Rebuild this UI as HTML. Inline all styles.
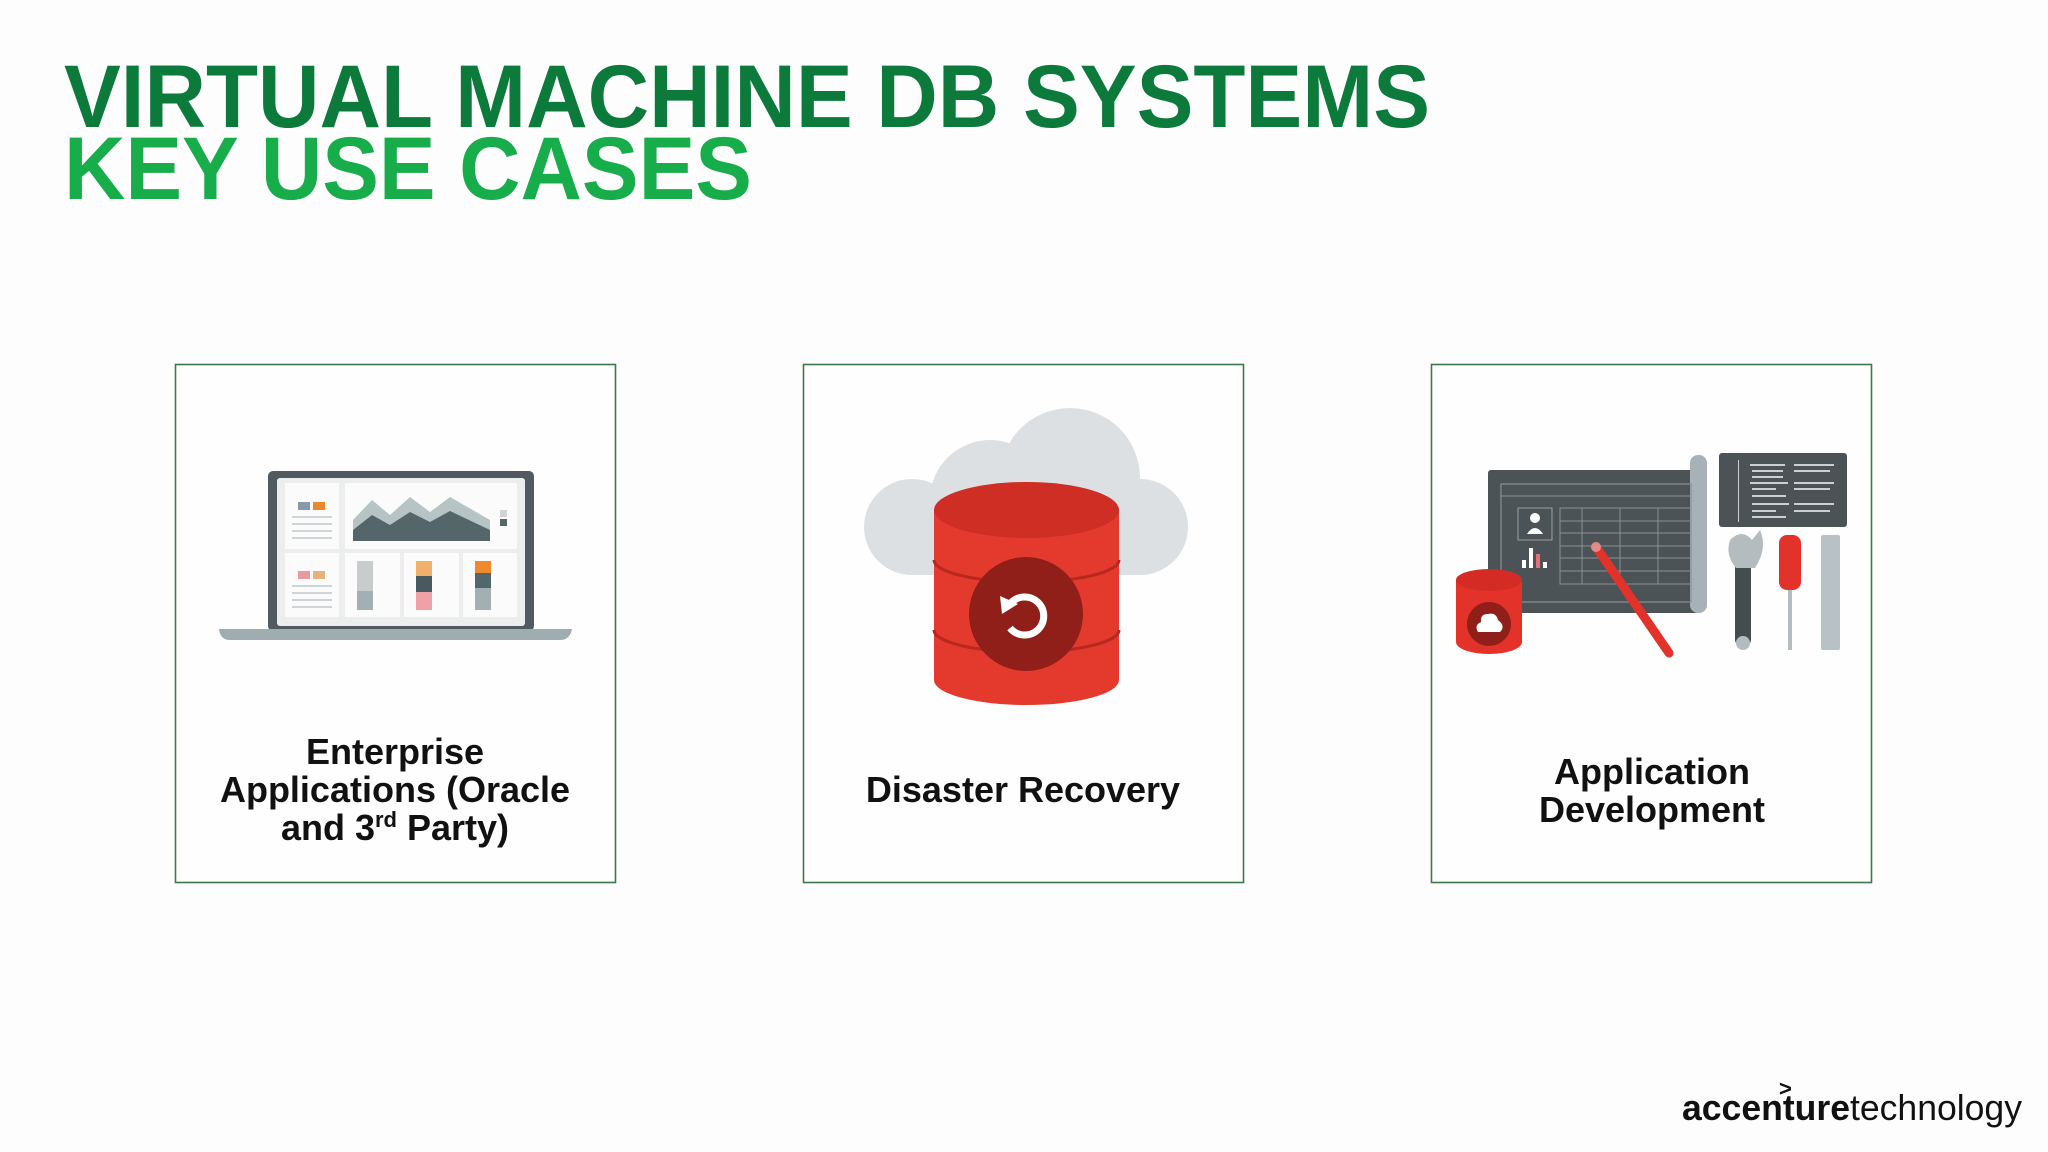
<!DOCTYPE html>
<html><head><meta charset="utf-8"><style>
html,body{margin:0;padding:0;background:#fdfdfd;}
svg{display:block}
</style></head><body>
<svg width="2048" height="1152" viewBox="0 0 2048 1152" xmlns="http://www.w3.org/2000/svg" font-family="Liberation Sans, Arial, sans-serif">
<rect width="2048" height="1152" fill="#fdfdfd"/>
<text x="64" y="127" font-size="89" font-weight="bold" fill="#0b7a3b" textLength="1366" lengthAdjust="spacingAndGlyphs">VIRTUAL MACHINE DB SYSTEMS</text>
<text x="64" y="199" font-size="89" font-weight="bold" fill="#17ad4a" textLength="688" lengthAdjust="spacingAndGlyphs">KEY USE CASES</text>

<g fill="#fefefe" stroke="#3b7a48" stroke-width="1.6">
<rect x="175.5" y="364.5" width="440" height="518"/>
<rect x="803.5" y="364.5" width="440" height="518"/>
<rect x="1431.5" y="364.5" width="440" height="518"/>
</g>

<!-- laptop -->
<rect x="268" y="471" width="266" height="160" rx="5" fill="#505a60"/>
<rect x="277" y="478" width="248" height="148" rx="3" fill="#eceeee"/>
<g fill="#fbfbfb">
<rect x="285" y="483" width="54" height="66"/><rect x="285" y="553" width="54" height="64"/>
<rect x="345" y="483" width="172" height="66"/>
<rect x="345" y="553" width="55" height="64"/><rect x="404" y="553" width="55" height="64"/><rect x="463" y="553" width="54" height="64"/>
</g>
<polygon points="353,541 353,520 372,500 390,515 410,497 430,512 450,497 490,520 490,541" fill="#b7c4c6"/>
<polygon points="353,541 353,530 372,515 390,525 410,512 430,522 450,511 490,530 490,541" fill="#55666a"/>
<rect x="298" y="502" width="12" height="8" fill="#8898a8"/><rect x="313" y="502" width="12" height="8" fill="#e8892e"/>
<rect x="298" y="571" width="12" height="8" fill="#e79aa0"/><rect x="313" y="571" width="12" height="8" fill="#e9b27a"/>
<g fill="#cfd4d6"><rect x="292" y="516" width="40" height="2"/><rect x="292" y="523" width="40" height="2"/><rect x="292" y="530" width="40" height="2"/><rect x="292" y="537" width="40" height="2"/>
<rect x="292" y="585" width="40" height="2"/><rect x="292" y="592" width="40" height="2"/><rect x="292" y="599" width="40" height="2"/><rect x="292" y="606" width="40" height="2"/></g>
<rect x="357" y="561" width="16" height="30" fill="#c9cccd"/><rect x="357" y="591" width="16" height="19" fill="#a3b0b3"/>
<rect x="416" y="561" width="16" height="15" fill="#f0b06a"/><rect x="416" y="576" width="16" height="16" fill="#485a60"/><rect x="416" y="592" width="16" height="18" fill="#f0a1a8"/>
<rect x="475" y="561" width="16" height="12" fill="#ee8a2a"/><rect x="475" y="573" width="16" height="15" fill="#52666d"/><rect x="475" y="588" width="16" height="22" fill="#a3b0b3"/>
<rect x="500" y="510" width="7" height="7" fill="#d0d4d4"/><rect x="500" y="519" width="7" height="7" fill="#55666a"/>
<path d="M219 629 H572 Q570 640 560 640 H230 Q220 640 219 629Z" fill="#9fadb1"/>

<!-- cloud + db -->
<g fill="#dde0e2">
<circle cx="1070" cy="478" r="70"/><circle cx="990" cy="500" r="60"/><circle cx="912" cy="527" r="48"/><circle cx="1140" cy="527" r="48"/>
<rect x="912" y="520" width="228" height="55"/>
</g>
<path d="M934 510 V680 A92.5 25 0 0 0 1119 680 V510Z" fill="#e43a2e"/>
<ellipse cx="1026.5" cy="510" rx="92.5" ry="28" fill="#cf2e25"/>
<path d="M934 560 A92.5 22 0 0 0 1119 560" fill="none" stroke="#b8281f" stroke-width="3"/>
<path d="M934 630 A92.5 22 0 0 0 1119 630" fill="none" stroke="#b8281f" stroke-width="3"/>
<circle cx="1026" cy="614" r="57" fill="#8f1f18"/>
<path d="M1010 604 A19 19 0 1 1 1010 628" fill="none" stroke="#fff" stroke-width="7"/>
<polygon points="1000,596 1018,604 1002,614" fill="#fff"/>

<!-- app dev -->
<rect x="1488" y="470" width="210" height="143" rx="3" fill="#4c5357"/>
<rect x="1690" y="455" width="17" height="158" rx="8" fill="#a7b2b8"/>
<rect x="1501" y="484" width="190" height="118" fill="none" stroke="#8a9296" stroke-width="1.2"/>
<line x1="1501" y1="496" x2="1691" y2="496" stroke="#8a9296"/>
<rect x="1518" y="508" width="34" height="32" fill="none" stroke="#9aa2a6"/>
<circle cx="1535" cy="518" r="5" fill="#fff"/><path d="M1527 534 Q1535 522 1543 534Z" fill="#fff"/>
<rect x="1522" y="560" width="4" height="8" fill="#fff"/><rect x="1529" y="548" width="4" height="20" fill="#fff"/><rect x="1536" y="554" width="4" height="14" fill="#e3707a"/><rect x="1543" y="562" width="4" height="6" fill="#fff"/>
<g stroke="#8a9296" stroke-width="1"><rect x="1560" y="508" width="131" height="76" fill="none"/>
<line x1="1560" y1="521" x2="1691" y2="521"/><line x1="1560" y1="533" x2="1691" y2="533"/><line x1="1560" y1="546" x2="1691" y2="546"/><line x1="1560" y1="558" x2="1691" y2="558"/><line x1="1560" y1="571" x2="1691" y2="571"/>
<line x1="1582" y1="508" x2="1582" y2="584"/><line x1="1620" y1="508" x2="1620" y2="584"/><line x1="1658" y1="508" x2="1658" y2="584"/></g>
<rect x="1719" y="453" width="128" height="74" rx="3" fill="#4c5357"/>
<g fill="#c9cfd2"><rect x="1750" y="464" width="35" height="2"/><rect x="1752" y="470" width="31" height="2"/><rect x="1752" y="476" width="31" height="2"/><rect x="1750" y="482" width="38" height="2"/><rect x="1752" y="488" width="24" height="2"/><rect x="1752" y="495" width="34" height="2"/><rect x="1752" y="503" width="37" height="2"/><rect x="1752" y="510" width="24" height="2"/><rect x="1752" y="516" width="34" height="2"/>
<rect x="1794" y="464" width="40" height="2"/><rect x="1794" y="470" width="36" height="2"/><rect x="1794" y="482" width="40" height="2"/><rect x="1794" y="488" width="36" height="2"/><rect x="1794" y="503" width="40" height="2"/><rect x="1794" y="510" width="36" height="2"/><rect x="1738" y="460" width="1" height="62"/></g>
<path d="M1596 547 L1669 653" stroke="#e23229" stroke-width="9" stroke-linecap="round"/>
<circle cx="1596" cy="547" r="5" fill="#e58a8a"/>
<rect x="1735" y="560" width="16" height="85" rx="5" fill="#454c50"/>
<path d="M1730 540 Q1742 528 1752 540 L1760 530 Q1768 548 1755 568 H1736 Q1725 555 1730 540Z" fill="#b5bcc0"/>
<circle cx="1743" cy="643" r="7" fill="#b5bcc0"/>
<rect x="1779" y="535" width="22" height="55" rx="8" fill="#e23229"/>
<rect x="1788" y="590" width="4" height="60" fill="#b5bcc0"/>
<rect x="1821" y="535" width="19" height="115" rx="2" fill="#b8c1c5"/>
<path d="M1456 580 V642 A33 12 0 0 0 1522 642 V580Z" fill="#e23229"/>
<ellipse cx="1489" cy="580" rx="33" ry="11" fill="#d42c24"/>
<circle cx="1489" cy="624" r="22" fill="#8f1f18"/>
<path d="M1478 632 H1500 Q1506 626 1498 620 Q1496 612 1488 614 Q1480 614 1481 622 Q1474 625 1478 632Z" fill="#fff"/>

<g font-size="36" font-weight="bold" fill="#111" text-anchor="middle">
<text x="395" y="764">Enterprise</text>
<text x="395" y="802">Applications (Oracle</text>
<text x="395" y="840">and 3<tspan font-size="22" dy="-13">rd</tspan><tspan dy="13"> Party)</tspan></text>
<text x="1023" y="802">Disaster Recovery</text>
<text x="1652" y="784">Application</text>
<text x="1652" y="822">Development</text>
</g>

<text x="1682" y="1120" font-size="36" fill="#111" textLength="340" lengthAdjust="spacingAndGlyphs"><tspan font-weight="bold">accenture</tspan>technology</text>
<text x="1779" y="1096" font-size="22" font-weight="bold" fill="#111">&gt;</text>
</svg>
</body></html>
